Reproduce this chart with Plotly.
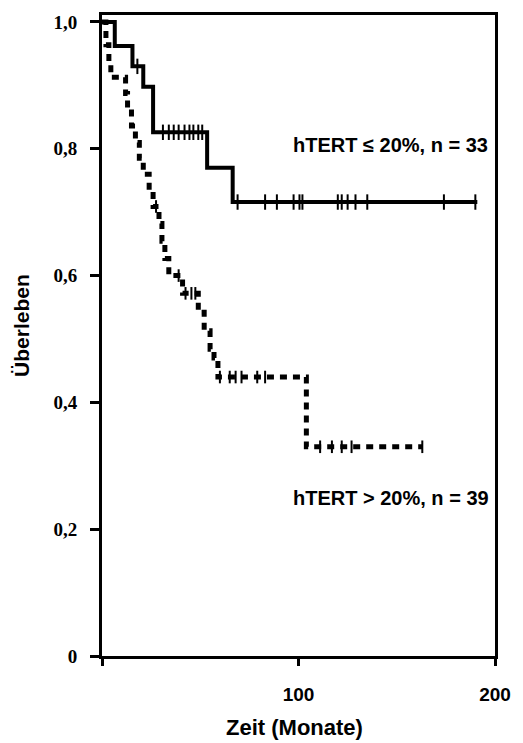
import plotly.graph_objects as go

# --- Data ---
# hTERT <= 20 % (solid) : Kaplan-Meier step curve
low_t = [0, 6.5, 15.5, 21, 26, 53.5, 66.5, 191]
low_s = [1.0, 0.962, 0.93, 0.898, 0.826, 0.77, 0.716, 0.716]
low_cens_t = [18, 31, 34, 36.5, 39, 42, 44.5, 46.5, 49, 51,
              69, 83, 89, 97.5, 100.5, 102, 120, 122, 125, 129, 135, 174, 190]
low_cens_s = [0.93] + [0.826] * 9 + [0.716] * 13

# hTERT > 20 % (dashed)
high_t = [0, 2, 3.5, 4.5, 12, 13, 15, 17, 19, 21, 24, 26, 29, 30.5, 32, 34,
          41, 49, 52, 55, 57, 59, 104, 163]
high_s = [1.0, 0.964, 0.938, 0.913, 0.887, 0.862, 0.836, 0.81, 0.785, 0.76,
          0.734, 0.709, 0.682, 0.654, 0.627, 0.60, 0.572, 0.542, 0.513,
          0.484, 0.47, 0.44, 0.33, 0.33]
high_cens_t = [27.5, 39, 42.5, 45.5, 47.5, 60, 65, 68, 71, 79, 83,
               111, 117, 122, 127, 163]
high_cens_s = [0.709, 0.60, 0.572, 0.572, 0.572, 0.44, 0.44, 0.44, 0.44,
               0.44, 0.44, 0.33, 0.33, 0.33, 0.33, 0.33]

y_tickvals = [0, 0.2, 0.4, 0.6, 0.8, 1.0]
y_ticktext = ["0", "0,2", "0,4", "0,6", "0,8", "1,0"]
x_tickvals = [0, 100, 200]
x_ticktext = ["", "100", "200"]

label_low = "hTERT ≤ 20%, n = 33"
label_high = "hTERT > 20%, n = 39"

SANS = "Liberation Sans, Arial, sans-serif"
SERIF = "Liberation Serif, Times New Roman, serif"

fig = go.Figure()

fig.add_trace(go.Scatter(
    x=high_t, y=high_s, mode="lines", line_shape="hv",
    line=dict(color="black", width=5, dash="7px,6px"),
    showlegend=False, hoverinfo="skip"))
fig.add_trace(go.Scatter(
    x=high_cens_t, y=high_cens_s, mode="markers",
    marker=dict(symbol="line-ns-open", size=9, color="black",
                line=dict(width=2, color="black")),
    showlegend=False, hoverinfo="skip"))

fig.add_trace(go.Scatter(
    x=low_t, y=low_s, mode="lines", line_shape="hv",
    line=dict(color="black", width=4),
    showlegend=False, hoverinfo="skip"))
fig.add_trace(go.Scatter(
    x=low_cens_t, y=low_cens_s, mode="markers",
    marker=dict(symbol="line-ns-open", size=11, color="black",
                line=dict(width=2, color="black")),
    showlegend=False, hoverinfo="skip"))

fig.add_annotation(x=96, y=0.806, xref="x", yref="y", text=label_low,
                   showarrow=False, xanchor="left", yanchor="middle",
                   font=dict(family=SANS, size=20, color="black", weight="bold"))
fig.add_annotation(x=96, y=0.249, xref="x", yref="y", text=label_high,
                   showarrow=False, xanchor="left", yanchor="middle",
                   font=dict(family=SANS, size=20, color="black", weight="bold"))

# axis titles
fig.add_annotation(x=0.491, y=-0.1123, xref="paper", yref="paper",
                   text="Zeit (Monate)", showarrow=False,
                   xanchor="center", yanchor="middle",
                   font=dict(family=SANS, size=22, color="black", weight="bold"))
fig.add_annotation(x=-0.2035, y=0.515, xref="paper", yref="paper",
                   text="Überleben", showarrow=False, textangle=-90,
                   xanchor="center", yanchor="middle",
                   font=dict(family=SANS, size=21, color="black", weight="bold"))

fig.update_xaxes(range=[0, 200], showline=True, linewidth=3, linecolor="black",
                 mirror=True, ticks="outside", ticklen=7, tickwidth=3,
                 tickcolor="black", tickvals=x_tickvals, ticktext=x_ticktext,
                 showgrid=False, zeroline=False, ticklabelstandoff=12,
                 tickfont=dict(family=SANS, size=19, color="black", weight="bold"))
fig.update_yaxes(range=[0, 1.011], showline=True, linewidth=3, linecolor="black",
                 mirror=True, ticks="outside", ticklen=9, tickwidth=3,
                 tickcolor="black", tickvals=y_tickvals, ticktext=y_ticktext,
                 showgrid=False, zeroline=False, ticklabelstandoff=9,
                 tickfont=dict(family=SERIF, size=19, color="black", weight="bold"))

fig.update_layout(width=523, height=743,
                  margin=dict(l=102, r=18, t=15, b=87),
                  paper_bgcolor="white", plot_bgcolor="white")

fig.write_html("out.html")
